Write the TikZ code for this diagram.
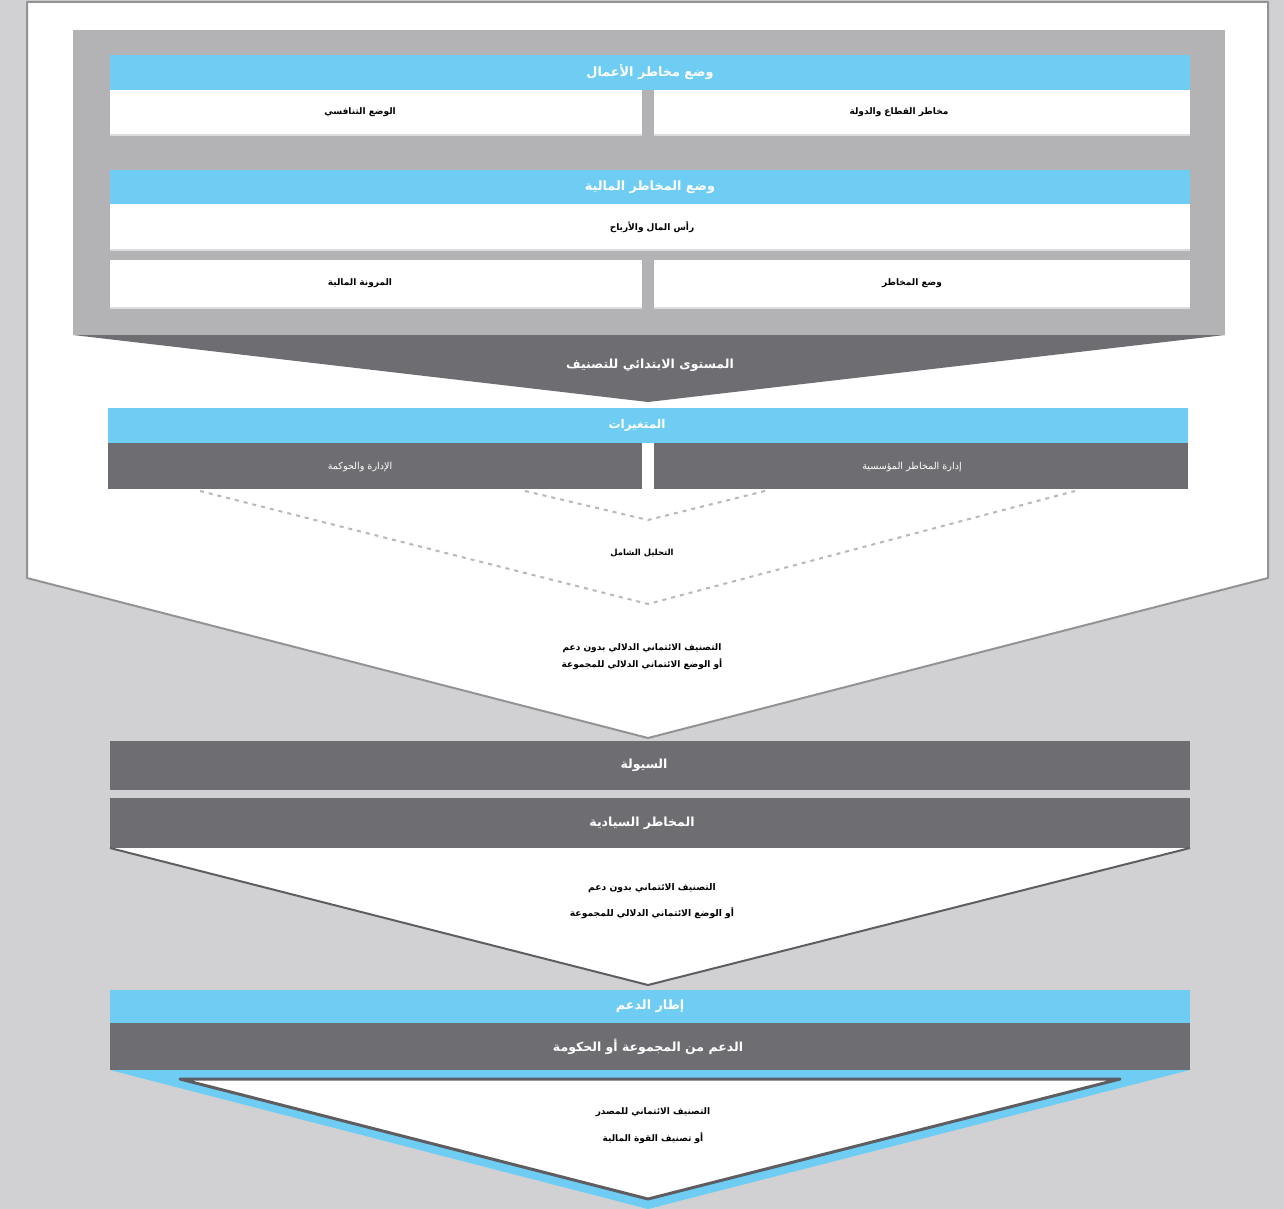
\documentclass[tikz,border=0pt]{standalone}
\usepackage{fontspec}
\TeXXeTstate=1
\newfontfamily\arabicfont[Script=Arabic]{DejaVu Sans}
\definecolor{bg}{HTML}{D1D1D3}
\definecolor{panel}{HTML}{B3B3B6}
\definecolor{dark}{HTML}{6E6D72}
\definecolor{sky}{HTML}{6FCDF4}
\definecolor{edge}{HTML}{939396}
\definecolor{edgedark}{HTML}{5E5E62}
\definecolor{dots}{HTML}{B8B8BA}
\definecolor{boxshade}{HTML}{DCDCDE}
\begin{document}
\begin{tikzpicture}[x=1pt,y=-1pt,
  every node/.style={inner sep=0pt, outer sep=0pt},
  wbox/.style={fill=white},
  wtext/.style={text=black, font=\arabicfont\bfseries\fontsize{9}{11}\selectfont},
  bbar/.style={fill=sky, text=white, minimum width=1080, font=\arabicfont\bfseries\fontsize{12.8}{14}\selectfont},
  dbar/.style={fill=dark, text=white, minimum width=1080, font=\arabicfont\bfseries\fontsize{12.5}{14}\selectfont},
  dbox/.style={fill=dark},
  dtext/.style={text=white, font=\arabicfont\fontsize{9.6}{11}\selectfont},
  note/.style={text=black, align=center, font=\arabicfont\bfseries\fontsize{9}{17}\selectfont},
  dotline/.style={draw=dots, line width=2pt, dash pattern=on 4pt off 5pt},
  boxedge/.style={draw=boxshade, line width=1.5pt}
]
\fill[bg] (0,0) rectangle (1284,1209);
\useasboundingbox (0,0) rectangle (1284,1209);

% big white chevron
\draw[edge, fill=white, line width=2pt, line join=round]
  (27,2) -- (1268,2) -- (1268,578) -- (648,738) -- (27,578) -- cycle;

% grey panel and its chevron
\fill[panel] (73,30) rectangle (1225,335);
\fill[dark] (73,335) -- (1225,335) -- (648,402) -- cycle;
\node[text=white, font=\arabicfont\bfseries\fontsize{12.5}{14}\selectfont] (init) at (650,365) {\beginR المستوى الابتدائي للتصنيف\endR};

% business risk
\node[bbar, minimum height=35] (bus) at (650,72.5) {\beginR وضع مخاطر الأعمال\endR};
\node[wbox, minimum width=532, minimum height=45] (comp) at (376,112.5) {};
\node[wbox, minimum width=536, minimum height=45] (ctry) at (922,112.5) {};
\node[wtext] (compt) at (360,112.5) {\beginR الوضع التنافسي\endR};
\node[wtext] (ctryt) at (899,112.5) {\beginR مخاطر القطاع والدولة\endR};

% financial risk
\node[bbar, minimum height=34] (fin) at (650,187) {\beginR وضع المخاطر المالية\endR};
\node[wbox, minimum width=1080, minimum height=46] (cap) at (650,227) {};
\node[wtext] (capt) at (652,227) {\beginR رأس المال والأرباح\endR};
\node[wbox, minimum width=532, minimum height=48] (flex) at (376,284) {};
\node[wbox, minimum width=536, minimum height=48] (rpos) at (922,284) {};
\node[wtext] (flext) at (360,283) {\beginR المرونة المالية\endR};
\node[wtext] (rpost) at (912,283) {\beginR وضع المخاطر\endR};
\foreach \b in {comp,ctry,cap,flex,rpos}
  \draw[boxedge] (\b.south west) -- (\b.south east);

% modifiers
\node[bbar, minimum height=35, font=\arabicfont\bfseries\fontsize{12}{14}\selectfont] (mod) at (648,425.5) {\hspace*{-22pt}\beginR المتغيرات\endR};
\node[dbox, minimum width=534, minimum height=46] (mgmt) at (375,466) {};
\node[dbox, minimum width=534, minimum height=46] (erm) at (921,466) {};
\node[dtext] (mgmtt) at (360,467) {\beginR الإدارة والحوكمة\endR};
\node[dtext] (ermt) at (912,467) {\beginR إدارة المخاطر المؤسسية\endR};

% holistic analysis dotted V
\coordinate (o1) at (200,491);
\coordinate (o2) at (1075,491);
\coordinate (ot) at (648,604);
\coordinate (i1) at (525,491);
\coordinate (i2) at (765,491);
\coordinate (it) at (648,520);
\draw[dotline] (o1) -- (ot) -- (o2);
\draw[dotline] (i1) -- (it) -- (i2);
\node[note, font=\arabicfont\bfseries\fontsize{8.4}{10}\selectfont] (hol) at (642,553) {\beginR التحليل الشامل\endR};

\node[note] (anchor1) at (642,657) {\beginR التصنيف الائتماني الدلالي بدون دعم\endR\\\beginR أو الوضع الائتماني الدلالي للمجموعة\endR};

% liquidity / sovereign
\node[dbar, minimum height=49] (liq) at (650,765.5) {\hspace*{-12pt}\beginR السيولة\endR};
\node[dbar, minimum height=50] (sov) at (650,823) {\hspace*{-16pt}\beginR المخاطر السيادية\endR};

\fill[white] (sov.south west) -- (sov.south east) -- (648,985) -- cycle;
\draw[edgedark, line width=2pt, line join=round]
  (sov.south west) -- (648,985) -- (sov.south east);
\node[note, font=\arabicfont\bfseries\fontsize{9.2}{11}\selectfont] (sacp1) at (652,888) {\beginR التصنيف الائتماني بدون دعم\endR};
\node[note, font=\arabicfont\bfseries\fontsize{9.2}{11}\selectfont] (sacp2) at (652,913) {\beginR أو الوضع الائتماني الدلالي للمجموعة\endR};

% support framework
\node[bbar, minimum height=33] (sup) at (650,1006.5) {\beginR إطار الدعم\endR};
\node[dbar, minimum height=47] (grp) at (650,1046.5) {\hspace*{-4pt}\beginR الدعم من المجموعة أو الحكومة\endR};
\fill[sky] (grp.south west) -- (grp.south east) -- (648,1209) -- cycle;
\draw[edgedark, fill=white, line width=3pt, line join=round]
  (180,1079) -- (1120,1079) -- (648,1199) -- cycle;
\node[note] (icr1) at (653,1112) {\beginR التصنيف الائتماني للمصدر\endR};
\node[note] (icr2) at (653,1138) {\beginR أو تصنيف القوة المالية\endR};
\end{tikzpicture}
\end{document}
